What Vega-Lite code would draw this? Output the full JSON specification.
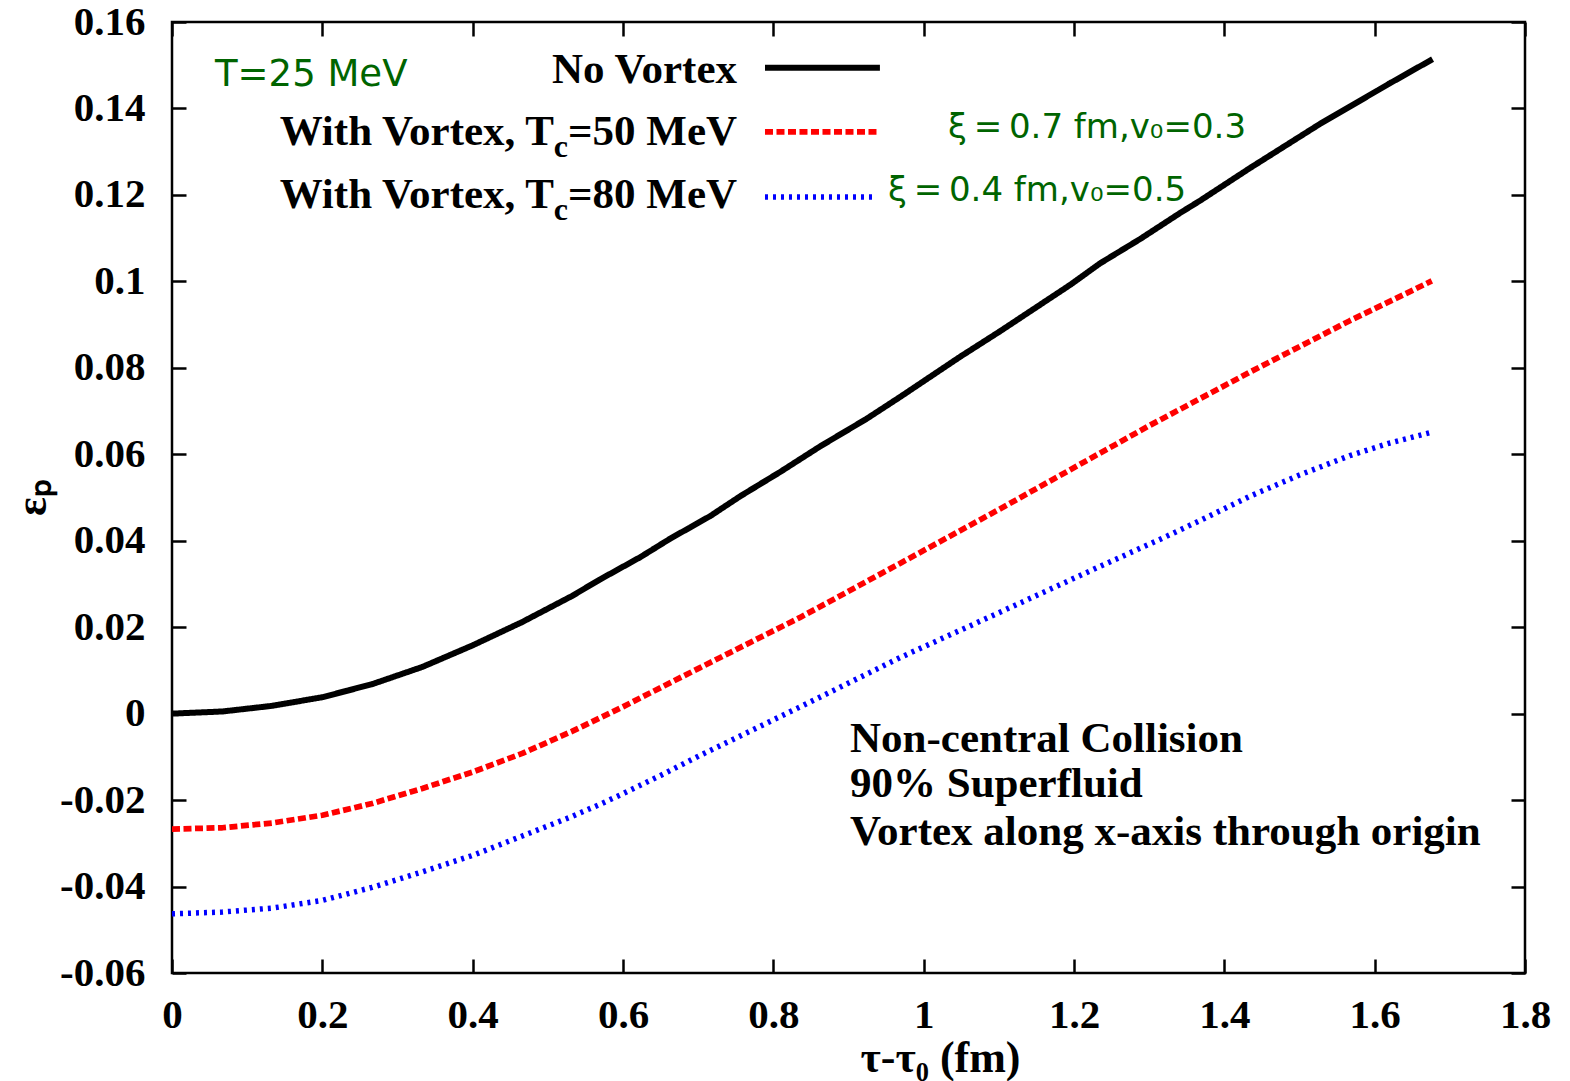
{
  "$schema": "https://vega.github.io/schema/vega-lite/v6.json",
  "width": 1353,
  "height": 951,
  "autosize": {"type": "none"},
  "padding": {"left": 172, "top": 22, "right": 45, "bottom": 108},
  "background": "white",
  "config": {
    "view": {"stroke": "black", "strokeWidth": 2.5},
    "axis": {
      "grid": false,
      "domain": false,
      "tickColor": "black",
      "tickWidth": 2.5,
      "tickSize": -14,
      "labelFont": "Liberation Serif",
      "labelFontWeight": "bold",
      "labelFontSize": 41,
      "labelColor": "black",
      "titleColor": "black"
    }
  },
  "datasets": {
    "curves": [
      {"series": "No Vortex", "t": 0, "eps": 0},
      {"series": "No Vortex", "t": 0.067, "eps": 0.0005},
      {"series": "No Vortex", "t": 0.133, "eps": 0.0018},
      {"series": "No Vortex", "t": 0.2, "eps": 0.0038},
      {"series": "No Vortex", "t": 0.266, "eps": 0.0068},
      {"series": "No Vortex", "t": 0.333, "eps": 0.0108},
      {"series": "No Vortex", "t": 0.4, "eps": 0.0158},
      {"series": "No Vortex", "t": 0.466, "eps": 0.0212},
      {"series": "No Vortex", "t": 0.532, "eps": 0.0272},
      {"series": "No Vortex", "t": 0.569, "eps": 0.0310},
      {"series": "No Vortex", "t": 0.623, "eps": 0.0362},
      {"series": "No Vortex", "t": 0.663, "eps": 0.0405},
      {"series": "No Vortex", "t": 0.716, "eps": 0.0457},
      {"series": "No Vortex", "t": 0.756, "eps": 0.0503},
      {"series": "No Vortex", "t": 0.809, "eps": 0.0559},
      {"series": "No Vortex", "t": 0.862, "eps": 0.0618},
      {"series": "No Vortex", "t": 0.924, "eps": 0.0682},
      {"series": "No Vortex", "t": 0.969, "eps": 0.0733},
      {"series": "No Vortex", "t": 1.048, "eps": 0.0825},
      {"series": "No Vortex", "t": 1.102, "eps": 0.0885},
      {"series": "No Vortex", "t": 1.155, "eps": 0.0946},
      {"series": "No Vortex", "t": 1.195, "eps": 0.0992},
      {"series": "No Vortex", "t": 1.235, "eps": 0.1042},
      {"series": "No Vortex", "t": 1.288, "eps": 0.1098},
      {"series": "No Vortex", "t": 1.341, "eps": 0.1158},
      {"series": "No Vortex", "t": 1.368, "eps": 0.1187},
      {"series": "No Vortex", "t": 1.434, "eps": 0.1262},
      {"series": "No Vortex", "t": 1.527, "eps": 0.1364},
      {"series": "No Vortex", "t": 1.62, "eps": 0.1458},
      {"series": "No Vortex", "t": 1.677, "eps": 0.1514},

      {"series": "Tc50", "t": 0, "eps": -0.0267},
      {"series": "Tc50", "t": 0.067, "eps": -0.0264},
      {"series": "Tc50", "t": 0.133, "eps": -0.0253},
      {"series": "Tc50", "t": 0.2, "eps": -0.0235},
      {"series": "Tc50", "t": 0.266, "eps": -0.0208},
      {"series": "Tc50", "t": 0.333, "eps": -0.0173},
      {"series": "Tc50", "t": 0.4, "eps": -0.0135},
      {"series": "Tc50", "t": 0.466, "eps": -0.0092},
      {"series": "Tc50", "t": 0.532, "eps": -0.0041},
      {"series": "Tc50", "t": 0.599, "eps": 0.0015},
      {"series": "Tc50", "t": 0.702, "eps": 0.0106},
      {"series": "Tc50", "t": 0.835, "eps": 0.0222},
      {"series": "Tc50", "t": 0.969, "eps": 0.0348},
      {"series": "Tc50", "t": 1.102, "eps": 0.0474},
      {"series": "Tc50", "t": 1.235, "eps": 0.0603},
      {"series": "Tc50", "t": 1.301, "eps": 0.0667},
      {"series": "Tc50", "t": 1.368, "eps": 0.0729},
      {"series": "Tc50", "t": 1.434, "eps": 0.0790},
      {"series": "Tc50", "t": 1.567, "eps": 0.0909},
      {"series": "Tc50", "t": 1.676, "eps": 0.1001},

      {"series": "Tc80", "t": 0, "eps": -0.0463},
      {"series": "Tc80", "t": 0.067, "eps": -0.0459},
      {"series": "Tc80", "t": 0.133, "eps": -0.0450},
      {"series": "Tc80", "t": 0.2, "eps": -0.0432},
      {"series": "Tc80", "t": 0.266, "eps": -0.0402},
      {"series": "Tc80", "t": 0.333, "eps": -0.0366},
      {"series": "Tc80", "t": 0.4, "eps": -0.0328},
      {"series": "Tc80", "t": 0.466, "eps": -0.0283},
      {"series": "Tc80", "t": 0.532, "eps": -0.0238},
      {"series": "Tc80", "t": 0.569, "eps": -0.0210},
      {"series": "Tc80", "t": 0.599, "eps": -0.0186},
      {"series": "Tc80", "t": 0.65, "eps": -0.0143},
      {"series": "Tc80", "t": 0.702, "eps": -0.0097},
      {"series": "Tc80", "t": 0.835, "eps": 0.0015},
      {"series": "Tc80", "t": 0.969, "eps": 0.0130},
      {"series": "Tc80", "t": 1.102, "eps": 0.0235},
      {"series": "Tc80", "t": 1.161, "eps": 0.0282},
      {"series": "Tc80", "t": 1.235, "eps": 0.0341},
      {"series": "Tc80", "t": 1.318, "eps": 0.0406},
      {"series": "Tc80", "t": 1.368, "eps": 0.0447},
      {"series": "Tc80", "t": 1.434, "eps": 0.0503},
      {"series": "Tc80", "t": 1.5, "eps": 0.0552},
      {"series": "Tc80", "t": 1.567, "eps": 0.0597},
      {"series": "Tc80", "t": 1.62, "eps": 0.0626},
      {"series": "Tc80", "t": 1.674, "eps": 0.0650}
    ]
  },
  "resolve": {"axis": {"x": "independent", "y": "independent"}},
  "layer": [
    {
      "data": {"name": "curves"},
      "mark": {"type": "line", "clip": true, "strokeCap": "butt", "strokeJoin": "round"},
      "encoding": {
        "x": {
          "field": "t", "type": "quantitative",
          "scale": {"domain": [0, 1.8], "nice": false, "zero": false},
          "axis": {
            "orient": "bottom",
            "values": [0, 0.2, 0.4, 0.6, 0.8, 1, 1.2, 1.4, 1.6, 1.8],
            "labelExpr": "'' + datum.value",
            "labelPadding": 36,
            "labelFlush": false,
            "title": "τ-τ₀ (fm)",
            "titleFont": "Liberation Serif",
            "titleFontWeight": "bold",
            "titleFontSize": 44,
            "titleX": 768,
            "titleY": 63,
            "titleAlign": "center",
            "titleBaseline": "top"
          }
        },
        "y": {
          "field": "eps", "type": "quantitative",
          "scale": {"domain": [-0.06, 0.16], "nice": false, "zero": false},
          "axis": {
            "orient": "left",
            "values": [-0.06, -0.04, -0.02, 0, 0.02, 0.04, 0.06, 0.08, 0.1, 0.12, 0.14, 0.16],
            "labelExpr": "'' + datum.value",
            "labelPadding": 41,
            "labelFlush": false,
            "title": "εₚ",
            "titleFont": "Liberation Serif",
            "titleFontWeight": "bold",
            "titleFontSize": 44,
            "titleAngle": -90,
            "titleX": -140,
            "titleY": 475,
            "titleAlign": "center",
            "titleBaseline": "middle"
          }
        },
        "detail": {"field": "series"},
        "color": {
          "field": "series", "type": "nominal", "legend": null,
          "scale": {"domain": ["No Vortex", "Tc50", "Tc80"], "range": ["#000000", "#ff0000", "#0000ff"]}
        },
        "strokeWidth": {
          "field": "series", "type": "nominal", "legend": null,
          "scale": {"domain": ["No Vortex", "Tc50", "Tc80"], "range": [6, 5.5, 2.8]}
        },
        "strokeDash": {
          "field": "series", "type": "nominal", "legend": null,
          "scale": {"domain": ["No Vortex", "Tc50", "Tc80"], "range": [[1, 0], [8, 3.5], [3, 5]]}
        }
      }
    },
    {
      "data": {"values": [{}]},
      "mark": {"type": "point", "opacity": 0},
      "encoding": {
        "x": {"datum": 0, "type": "quantitative",
          "axis": {"orient": "top", "values": [0, 0.2, 0.4, 0.6, 0.8, 1, 1.2, 1.4, 1.6, 1.8], "labels": false, "title": null}},
        "y": {"datum": 0, "type": "quantitative",
          "axis": {"orient": "right", "values": [-0.06, -0.04, -0.02, 0, 0.02, 0.04, 0.06, 0.08, 0.1, 0.12, 0.14, 0.16], "labels": false, "title": null}}
      }
    },
    {
      "data": {"values": [
        {"series": "No Vortex", "x1": 0.7889, "x2": 0.9418, "y": 0.1494},
        {"series": "Tc50", "x1": 0.7889, "x2": 0.9418, "y": 0.1346},
        {"series": "Tc80", "x1": 0.7889, "x2": 0.935, "y": 0.1195}
      ]},
      "mark": {"type": "rule", "strokeCap": "butt"},
      "encoding": {
        "x": {"field": "x1", "type": "quantitative", "axis": null},
        "x2": {"field": "x2"},
        "y": {"field": "y", "type": "quantitative", "axis": null},
        "color": {"field": "series", "type": "nominal", "legend": null},
        "strokeWidth": {"field": "series", "type": "nominal", "legend": null},
        "strokeDash": {"field": "series", "type": "nominal", "legend": null}
      }
    },
    {
      "data": {"values": [
        {"label": "No Vortex", "x": 0.7517, "y": 0.1459},
        {"label": "=50 MeV", "x": 0.7517, "y": 0.1316},
        {"label": "=80 MeV", "x": 0.7517, "y": 0.117}
      ]},
      "mark": {"type": "text", "align": "right", "baseline": "alphabetic", "font": "Liberation Serif", "fontWeight": "bold", "fontSize": 43, "color": "black"},
      "encoding": {
        "x": {"field": "x", "type": "quantitative", "axis": null},
        "y": {"field": "y", "type": "quantitative", "axis": null},
        "text": {"field": "label"}
      }
    },
    {
      "data": {"values": [
        {"label": "With Vortex, T", "x": 0.7517, "y": 0.1316},
        {"label": "With Vortex, T", "x": 0.7517, "y": 0.117}
      ]},
      "mark": {"type": "text", "align": "right", "baseline": "alphabetic", "dx": -183, "font": "Liberation Serif", "fontWeight": "bold", "fontSize": 43, "color": "black"},
      "encoding": {
        "x": {"field": "x", "type": "quantitative", "axis": null},
        "y": {"field": "y", "type": "quantitative", "axis": null},
        "text": {"field": "label"}
      }
    },
    {
      "data": {"values": [
        {"label": "c", "x": 0.7517, "y": 0.1316},
        {"label": "c", "x": 0.7517, "y": 0.117}
      ]},
      "mark": {"type": "text", "align": "right", "baseline": "alphabetic", "dx": -169, "dy": 12, "font": "Liberation Serif", "fontWeight": "bold", "fontSize": 32, "color": "black"},
      "encoding": {
        "x": {"field": "x", "type": "quantitative", "axis": null},
        "y": {"field": "y", "type": "quantitative", "axis": null},
        "text": {"field": "label"}
      }
    },
    {
      "data": {"values": [
        {"label": "T=25 MeV", "x": 0.0572, "y": 0.1452, "size": 37},
        {"label": "ξ\u2009=\u20090.7 fm,v₀=0.3", "x": 1.0323, "y": 0.1332, "size": 34},
        {"label": "ξ\u2009=\u20090.4 fm,v₀=0.5", "x": 0.9525, "y": 0.1186, "size": 34}
      ]},
      "mark": {"type": "text", "align": "left", "baseline": "alphabetic", "font": "DejaVu Sans", "color": "#006400"},
      "encoding": {
        "x": {"field": "x", "type": "quantitative", "axis": null},
        "y": {"field": "y", "type": "quantitative", "axis": null},
        "text": {"field": "label"},
        "size": {"field": "size", "type": "quantitative", "scale": null, "legend": null}
      }
    },
    {
      "data": {"values": [
        {"label": "Non-central Collision", "x": 0.902, "y": -0.0088},
        {"label": "90% Superfluid", "x": 0.902, "y": -0.0194},
        {"label": "Vortex along x-axis through origin", "x": 0.902, "y": -0.0305}
      ]},
      "mark": {"type": "text", "align": "left", "baseline": "alphabetic", "font": "Liberation Serif", "fontWeight": "bold", "fontSize": 43, "color": "black"},
      "encoding": {
        "x": {"field": "x", "type": "quantitative", "axis": null},
        "y": {"field": "y", "type": "quantitative", "axis": null},
        "text": {"field": "label"}
      }
    }
  ]
}
